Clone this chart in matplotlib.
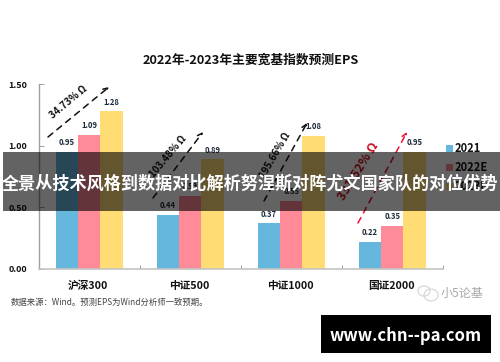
import matplotlib
matplotlib.use('Agg')
from matplotlib import pyplot as plt
from matplotlib.patches import Rectangle, Ellipse, FancyArrowPatch
import numpy as np

plt.rcParams['font.family'] = ['Noto Sans CJK SC', 'DejaVu Sans']

# chart values
categories = ['沪深300', '中证500', '中证1000', '国证2000']
series_names = ['2021', '2022E', '2023E']
eps_2021 = [0.95, 0.44, 0.37, 0.22]
eps_2022 = [1.09, 0.59, 0.55, 0.35]
eps_2023 = [1.28, 0.89, 1.08, 0.95]
growth_labels = ['34.73% Ω', '103.48% Ω', '195.66% Ω', '331.52% Ω']
y_ticks = [0.0, 0.5, 1.0, 1.5]

colors = ['#65B7DD', '#FF8A98', '#FFDC74']

W, H = 500, 362
fig = plt.figure(figsize=(W / 100, H / 100), dpi=100, facecolor='white')


# pixel position (from top left) to figure fraction
def px(x, y):
    return x / W, 1 - y / H


ax = fig.add_axes([38.5 / W, 1 - 269 / H, (442.7 - 38.5) / W, (269 - 84.3) / H])
ax.set_xlim(-0.5, 3.5)
ax.set_ylim(0, 1.5)
ax.patch.set_alpha(0)

# bars
width = 0.221
xs = np.arange(len(categories))
for i, vals in enumerate([eps_2021, eps_2022, eps_2023]):
    bars = ax.bar(xs + (i - 1) * width, vals, width, color=colors[i], edgecolor='none')
    ax.bar_label(bars, fmt='%.2f', padding=3.5, fontsize=5.5, fontweight='bold', color='#1c2b3a')

# axes styling
for s in ['top', 'right']:
    ax.spines[s].set_visible(False)
ax.spines['left'].set_color('#a0a0a0')
ax.spines['left'].set_linewidth(1)
ax.spines['bottom'].set_color('#c4c4c4')
ax.spines['bottom'].set_linewidth(1.2)
ax.set_yticks(y_ticks)
ax.set_yticklabels(['%.2f' % v for v in y_ticks], fontsize=6.5, fontweight='bold', color='#111111')
ax.tick_params(axis='y', direction='in', length=3.5, width=0.7, color='#a0a0a0', pad=8)
ax.set_xticks(np.arange(-0.5, 4, 1))
ax.set_xticklabels([])
ax.tick_params(axis='x', direction='in', length=3, width=0.7, color='#a0a0a0')
for x, name in zip(xs, categories):
    ax.annotate(name, (x, 0), xytext=(-0.5, -16.5 * 0.72), textcoords='offset points',
                ha='center', va='center', fontsize=7.7, fontweight='bold', color='#111111')

fig.text(*px(251, 60.5), '2022年-2023年主要宽基指数预测EPS', ha='center', va='center',
         fontsize=9.2, fontweight='bold', color='#111111')
fig.text(*px(11, 302), '数据来源：Wind。预测EPS为Wind分析师一致预期。', ha='left', va='center',
         fontsize=6, color='#444444')

# growth arrows and their rotated labels
arrow_ends = [((48, 137), (109, 87)), ((153, 198), (203, 132)),
              ((264, 201), (307, 123)), ((358, 223), (407, 132))]
label_pos = [(68, 102), (168, 156), (275, 155), (358, 171)]
label_rot = [40, 50, 60, 58]
label_size = [7, 7, 7, 9]
arrow_col = ['#111111', '#111111', '#111111', '#EE1133']
text_col = ['#111111', '#111111', '#111111', '#CC1122']
for k in range(4):
    start, end = arrow_ends[k]
    fig.add_artist(FancyArrowPatch(
        px(*start), px(*end), transform=fig.transFigure, arrowstyle='->', mutation_scale=8,
        linestyle=(0, (4, 3.5)), linewidth=1.1, color=arrow_col[k], shrinkA=0, shrinkB=0))
    fig.text(*px(*label_pos[k]), growth_labels[k], rotation=label_rot[k], rotation_mode='anchor',
             ha='center', va='center', fontsize=label_size[k], fontweight='bold', color=text_col[k])

# legend
legend_y = [148.7, 167.3, 186]
for name, col, y in zip(series_names, colors, legend_y):
    fig.add_artist(Rectangle(px(446, y + 3.5), 7 / W, 7 / H, transform=fig.transFigure,
                             facecolor=col, edgecolor='none'))
    fig.text(*px(455, y), name, ha='left', va='center', fontsize=8, fontweight='bold', color='#111111')

# watermark
fig.text(*px(441, 293), '小5论基', ha='left', va='center', fontsize=8.7, color='#a8a8a8')
for cx, cy, rx in [(424, 291, 6), (431, 295, 7)]:
    fig.add_artist(Ellipse(px(cx, cy), 2 * rx / W, 1.7 * rx / H, transform=fig.transFigure,
                           facecolor='none', edgecolor='#d4d4d4', linewidth=0.8))

# banner over the chart
fig.add_artist(Rectangle(px(3, 210.7), 497 / W, 58.7 / H, transform=fig.transFigure,
                         facecolor='black', edgecolor='none', alpha=0.61, zorder=5))
fig.text(*px(250, 184), '全景从技术风格到数据对比解析努涅斯对阵尤文国家队的对位优势', ha='center', va='center',
         fontsize=12.3, fontweight='bold', color='white', zorder=6)

# site box
fig.add_artist(Rectangle(px(321, 352.7), 169.7 / W, 37.7 / H, transform=fig.transFigure,
                         facecolor='black', edgecolor='none', zorder=5))
fig.text(*px(405.5, 336), 'www.chn--pa.com', ha='center', va='center', fontsize=12,
         fontweight='bold', color='white', zorder=6)

fig.savefig('out.png', dpi=100)
